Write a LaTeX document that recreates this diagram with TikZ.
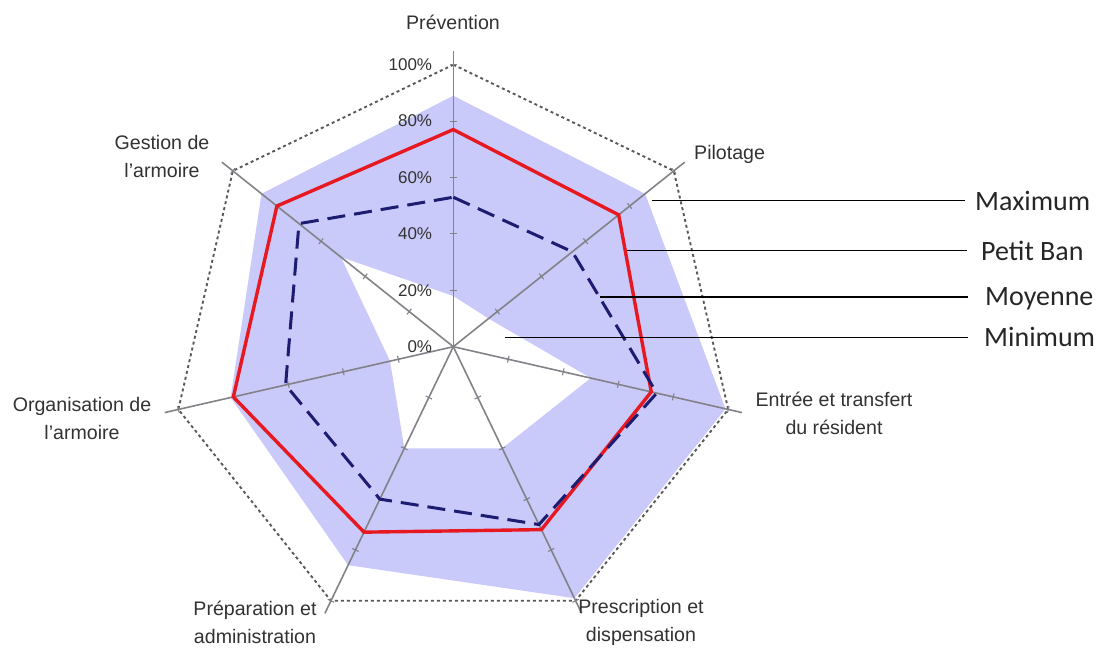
\documentclass[tikz,border=0pt]{standalone}
\usepackage{fontspec}
\setmainfont{Liberation Sans}
\newfontfamily\legfont{Carlito}
\definecolor{maxfill}{RGB}{201,201,250}
\definecolor{redline}{RGB}{232,24,32}
\definecolor{navyline}{RGB}{28,28,112}
\definecolor{axisgray}{RGB}{130,130,136}
\definecolor{txtgray}{RGB}{50,50,50}
\tikzset{
  axisline/.style={draw=axisgray, line width=1.6pt},
  tickmark/.style={draw=axisgray, line width=1.1pt},
  ticklbl/.style={font=\fontsize{17}{17}\selectfont, text=txtgray, anchor=east, inner sep=0pt},
  axlbl/.style={font=\fontsize{19.6}{28}\selectfont, text=txtgray, align=center, inner sep=0pt},
  outline/.style={draw=black!65, line width=1.9pt, dash pattern=on 3pt off 3pt},
  maxarea/.style={fill=maxfill, even odd rule},
  petitban/.style={draw=redline, line width=3.4pt, line join=miter},
  moyenne/.style={draw=navyline, line width=3pt, dash pattern=on 18pt off 9pt},
  legline/.style={draw=black, line width=1.5pt},
  leglbl/.style={font=\legfont\fontsize{28}{28}\selectfont, text=black!85, anchor=west, inner sep=0pt}
}
\begin{document}
\begin{tikzpicture}[x=1pt,y=1pt]
\useasboundingbox (0,0) rectangle (1106,-652);
\begin{scope}[shift={(453.3,-346.7)}]
  % data points
  \path \foreach \k/\v in {0/89,1/87,2/99,3/99,4/86,5/81,6/87} {({90-\k*360/7}:{\v*2.82}) coordinate (mx\k)};
  \path \foreach \k/\v in {0/18,1/16,2/50,3/40,4/40,5/23,6/51} {({90-\k*360/7}:{\v*2.82}) coordinate (mn\k)};
  \path \foreach \k/\v in {0/77,1/75,2/72,3/72,4/73,5/80,6/80} {({90-\k*360/7}:{\v*2.82}) coordinate (pb\k)};
  \path \foreach \k/\v in {0/53,1/54,2/74,3/70,4/60,5/61,6/70} {({90-\k*360/7}:{\v*2.82}) coordinate (my\k)};
  \path \foreach \k in {0,...,6} {({90-\k*360/7}:282) coordinate (ax\k)};
  % max/min band
  \fill[maxarea] (mx0)--(mx1)--(mx2)--(mx3)--(mx4)--(mx5)--(mx6)--cycle
                 (mn0)--(mn1)--(mn2)--(mn3)--(mn4)--(mn5)--(mn6)--cycle;
  % 100% outline
  \draw[outline] (ax0)--(ax1)--(ax2)--(ax3)--(ax4)--(ax5)--(ax6)--cycle;
  % axes and ticks
  \foreach \k in {0,...,6} {
    \begin{scope}[rotate={90-\k*360/7}]
      \draw[axisline] (0,0) -- (296,0);
      \foreach \p in {20,40,60,80,100} {\draw[tickmark] ({\p*2.82},-3.5) -- ({\p*2.82},3.5);}
    \end{scope}
  }
  % percent labels
  \foreach \p in {0,20,40,60,80,100} {\node[ticklbl] at (-21,{\p*2.82}) {\p\%};}
  % series
  \draw[petitban] (pb0)--(pb1)--(pb2)--(pb3)--(pb4)--(pb5)--(pb6)--cycle;
  \draw[moyenne] (my0)--(my1)--(my2)--(my3)--(my4)--(my5)--(my6)--cycle;
\end{scope}
% axis labels
\node[axlbl] (lprev) at (453,-22) {Prévention};
\node[axlbl, anchor=west] (lpil) at (694,-154) {Pilotage};
\node[axlbl] (lent) at (834,-413) {Entrée et transfert\\du résident};
\node[axlbl] (lpre) at (641,-622) {Prescription et\\dispensation};
\node[axlbl] (lprep) at (255,-622) {Préparation et\\administration};
\node[axlbl] (lorg) at (82,-418) {Organisation de\\l{\char"0027}armoire};
\node[axlbl] (lges) at (162,-156) {Gestion de\\l{\char"0027}armoire};
% legend
\coordinate (cmax) at (651.7,-200.7);
\coordinate (cpb) at (626.7,-250.7);
\coordinate (cmoy) at (600,-297);
\coordinate (cmin) at (505,-337.3);
\node[leglbl] (Lmax) at (975,-200.7) {Maximum};
\node[leglbl] (Lpb) at (981,-250.7) {Petit Ban};
\node[leglbl] (Lmoy) at (985,-299) {Moyenne};
\node[leglbl] (Lmin) at (984,-337.3) {Minimum};
\draw[legline] (cmax) -- ([xshift=-10pt]Lmax.west);
\draw[legline] (cpb) -- ([xshift=-14pt]Lpb.west);
\draw[legline] (cmoy) -- (968,-297);
\draw[legline] (cmin) -- ([xshift=-16pt]Lmin.west);
\end{tikzpicture}
\end{document}
